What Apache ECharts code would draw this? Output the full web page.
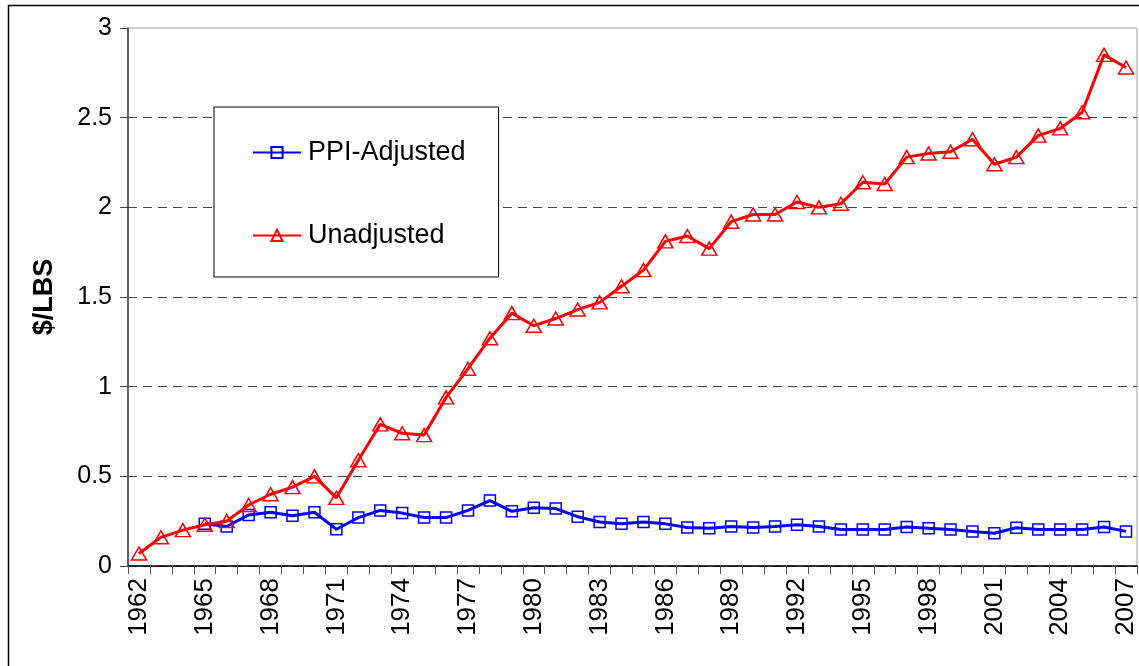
<!DOCTYPE html>
<html>
<head>
<meta charset="utf-8">
<script src="https://cdn.jsdelivr.net/npm/echarts@6/dist/echarts.min.js"></script>
<style>
html,body{margin:0;padding:0;background:#fff;}
#main{width:1139px;height:666px;}
</style>
</head>
<body>
<div id="main"></div>
<script>
const years = [];
for (let y = 1962; y <= 2007; y++) years.push(String(y));

const ppiAdjusted = [null, null, null,
  0.235, 0.22, 0.285, 0.30, 0.28, 0.30,
  0.205, 0.27, 0.31, 0.295, 0.27, 0.27,
  0.31, 0.365, 0.305, 0.325, 0.32, 0.275,
  0.245, 0.235, 0.245, 0.235, 0.215, 0.21,
  0.22, 0.215, 0.22, 0.23, 0.22, 0.203,
  0.203, 0.203, 0.217, 0.211, 0.203, 0.193,
  0.183, 0.213, 0.203, 0.203, 0.203, 0.217, 0.193];

const unadjusted = [0.07, 0.16, 0.20, 0.23, 0.25, 0.34, 0.40, 0.44, 0.50,
  0.38, 0.59, 0.79, 0.74, 0.73, 0.94, 1.10, 1.27, 1.41, 1.34,
  1.38, 1.43, 1.47, 1.56, 1.65, 1.81, 1.84, 1.77, 1.92, 1.96,
  1.96, 2.03, 2.00, 2.02, 2.14, 2.13, 2.28, 2.30, 2.31, 2.38,
  2.24, 2.28, 2.40, 2.44, 2.53, 2.85, 2.78];

const seriesNames = ['PPI-Adjusted', 'Unadjusted'];
const yAxisName = '$/LBS';

const FONT = '"Liberation Sans", Arial, sans-serif';
const chart = echarts.init(document.getElementById('main'), null, {renderer: 'canvas'});

chart.setOption({
  animation: false,
  backgroundColor: '#fff',
  textStyle: {fontFamily: FONT},
  graphic: [{
    type: 'rect',
    shape: {x: 8.5, y: 5.5, width: 1160, height: 700},
    style: {fill: 'none', stroke: '#000', lineWidth: 1.5},
    z: -1
  }],
  grid: {
    left: 128, right: 2, top: 28, bottom: 100,
    show: true, borderColor: '#a0a0a0', borderWidth: 1, backgroundColor: 'transparent'
  },
  legend: {
    orient: 'vertical',
    left: 214, top: 107,
    padding: [30, 33, 26, 38],
    itemGap: 52,
    itemWidth: 48,
    itemHeight: 14,
    borderColor: '#000', borderWidth: 1,
    backgroundColor: '#fff',
    textStyle: {fontSize: 27, lineHeight: 31, color: '#000', fontFamily: FONT, padding: [0, 0, 0, 2]},
    data: seriesNames
  },
  xAxis: {
    type: 'category',
    data: years,
    boundaryGap: true,
    axisLine: {lineStyle: {color: '#000', width: 1.5}},
    axisTick: {show: true, interval: 0, length: 8, lineStyle: {color: '#555', width: 1}},
    axisLabel: {interval: 2, rotate: 90, fontSize: 26, margin: 12, color: '#000', fontFamily: FONT},
    splitLine: {show: false}
  },
  yAxis: {
    type: 'value',
    min: 0, max: 3, interval: 0.5,
    name: yAxisName,
    nameLocation: 'middle',
    nameGap: 70,
    nameTextStyle: {fontSize: 27, fontWeight: 'bold', color: '#000', fontFamily: FONT},
    axisLine: {show: true, lineStyle: {color: '#404040', width: 1.5}},
    axisTick: {show: true, length: 8, lineStyle: {color: '#404040'}},
    axisLabel: {fontSize: 25, margin: 16, color: '#000', fontFamily: FONT},
    splitLine: {
      show: true,
      lineStyle: {
        color: ['#444', '#444', '#444', '#444', '#444', '#444', 'transparent'],
        type: [9, 6], width: 1
      }
    }
  },
  series: [
    {
      name: seriesNames[0],
      type: 'line',
      data: ppiAdjusted,
      symbol: 'rect',
      symbolSize: 11,
      showAllSymbol: true,
      lineStyle: {color: '#0000ff', width: 3},
      itemStyle: {color: 'rgba(0,0,0,0)', borderColor: '#0000ff', borderWidth: 1.5},
      z: 2
    },
    {
      name: seriesNames[1],
      type: 'line',
      data: unadjusted,
      symbol: 'triangle',
      symbolSize: [15, 13],
      showAllSymbol: true,
      lineStyle: {color: '#ff0000', width: 3},
      itemStyle: {color: 'rgba(0,0,0,0)', borderColor: '#ff0000', borderWidth: 1.5},
      z: 3
    }
  ]
});
</script>
</body>
</html>
